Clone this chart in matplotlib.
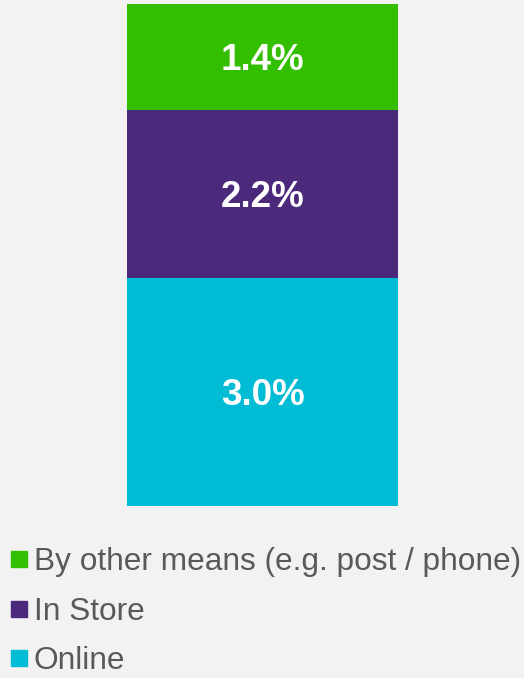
import matplotlib.pyplot as plt
from matplotlib.lines import Line2D

# Anteil je Kanal, von unten nach oben gestapelt
kanaele = ["Online", "In Store", "By other means (e.g. post / phone)"]
anteile = [3.0, 2.2, 1.4]
farben = ["#00bcd4", "#4b2a7b", "#33bf00"]

plt.rcParams['font.family'] = ['Liberation Sans', 'DejaVu Sans']

fig = plt.figure(figsize=(5.24, 6.78), dpi=100)
fig.patch.set_facecolor("#f2f2f2")

# Achse nur so gross wie der Balken
ax = fig.add_axes([127/524, 172/678, 271/524, 502/678])
ax.set_facecolor("#f2f2f2")

unten = 0
for kanal, wert, farbe in zip(kanaele, anteile, farben):
  ax.bar(0, wert, width=1, bottom=unten, color=farbe, label=kanal)
  ax.annotate(f"{wert:.1f}%", (0, unten + wert/2), xytext=(0, -2.5),
              textcoords="offset points", ha="center", va="center",
              color="white", fontsize=26.5, fontweight="bold")
  unten += wert

ax.set_xlim(-0.5, 0.5)
ax.set_ylim(0, sum(anteile))
ax.axis("off")

# Legende unter dem Balken, oberster Eintrag zuerst
griffe = [Line2D([], [], marker="s", linestyle="none", markersize=11.5,
                 markerfacecolor=f, markeredgecolor=f) for f in farben]
leg = fig.legend(griffe[::-1], kanaele[::-1], loc="upper left",
                 bbox_to_anchor=(10/524, 1 - 547/678), frameon=False,
                 fontsize=22.8, handlelength=0.55, handletextpad=0.2,
                 labelspacing=0.62, borderaxespad=0, borderpad=0)
for t in leg.get_texts():
  t.set_color("#595959")

fig.savefig("out.png", dpi=100, facecolor=fig.get_facecolor())
